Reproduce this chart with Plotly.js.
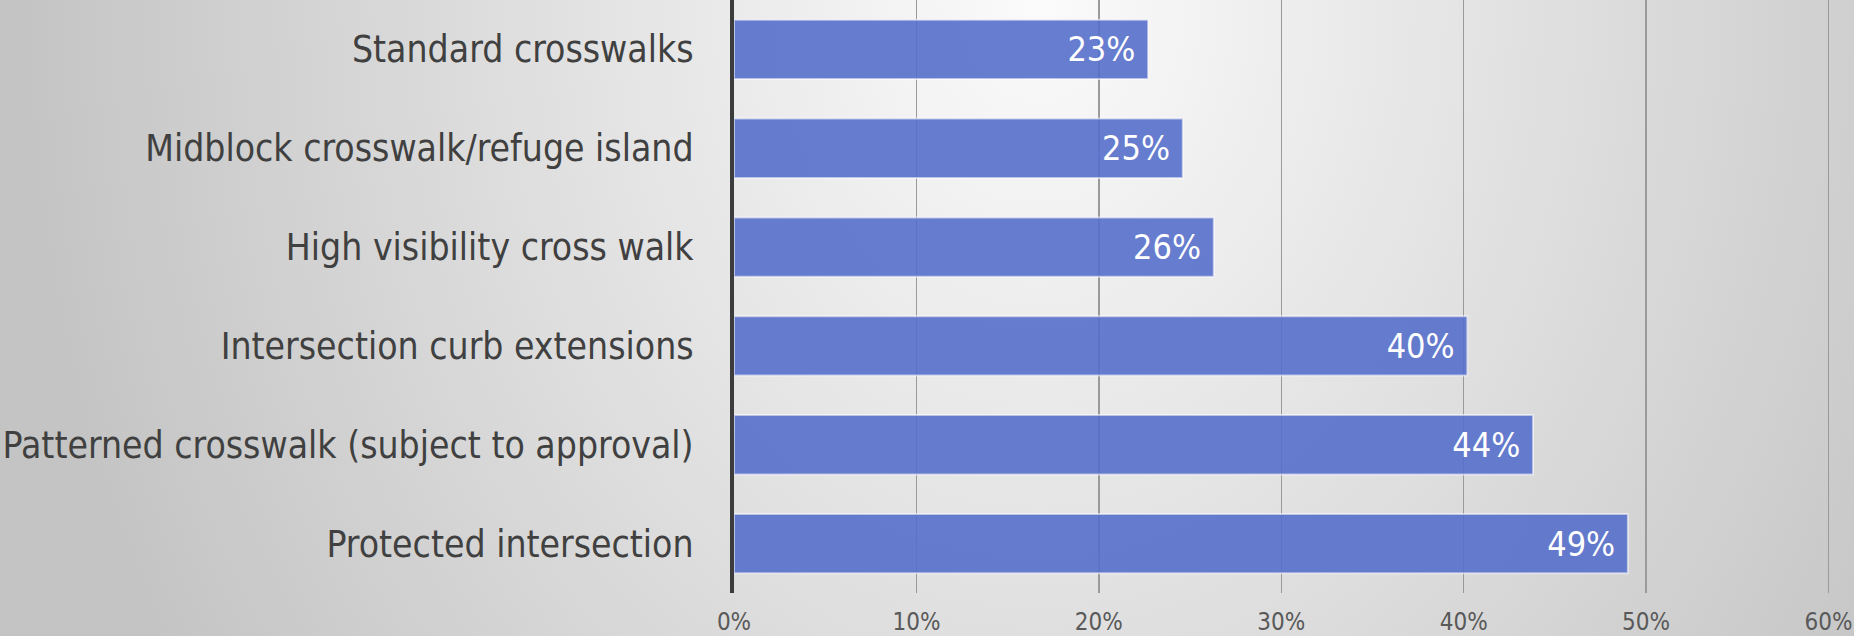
<!DOCTYPE html>
<html>
<head>
<meta charset="utf-8">
<script src="https://cdn.plot.ly/plotly-3.0.1.min.js"></script>
<style>
  html, body { margin: 0; padding: 0; }
  body {
    width: 1854px; height: 636px; overflow: hidden;
    background: radial-gradient(ellipse 55% 200% at 56% 0%, #fbfbfb 0%, #c4c4c4 100%);
  }
  #chart { width: 1854px; height: 636px; }
</style>
</head>
<body>
<div id="chart"></div>
<script>
const categories = [
  "Standard crosswalks",
  "Midblock crosswalk/refuge island",
  "High visibility cross walk",
  "Intersection curb extensions",
  "Patterned crosswalk (subject to approval)",
  "Protected intersection"
];
const values = [0.227, 0.246, 0.263, 0.402, 0.438, 0.490];
const labels = ["23%", "25%", "26%", "40%", "44%", "49%"];
const xTickVals = [0, 0.1, 0.2, 0.3, 0.4, 0.5, 0.6];
const xTickText = ["0%", "10%", "20%", "30%", "40%", "50%", "60%"];

const font = "'DejaVu Sans Condensed', 'Liberation Sans Narrow', sans-serif";

const trace = {
  type: "bar",
  orientation: "h",
  y: categories,
  x: values,
  text: labels.map(t => t + "\u00a0"),
  textposition: "inside",
  insidetextanchor: "end",
  textangle: 0,
  constraintext: "none",
  textfont: { family: font, size: 34, color: "#ffffff" },
  marker: {
    color: "rgba(86,111,202,0.9)",
    line: { color: "rgba(255,255,255,0.55)", width: 2 }
  },
  hoverinfo: "none"
};

const layout = {
  width: 1854,
  height: 636,
  margin: { l: 734, r: 24, t: 0, b: 43 },
  paper_bgcolor: "rgba(0,0,0,0)",
  plot_bgcolor: "rgba(0,0,0,0)",
  showlegend: false,
  bargap: 0.4,
  xaxis: {
    range: [0, 0.6008],
    tickvals: xTickVals,
    ticktext: xTickText,
    showgrid: true,
    gridcolor: "#9a9a9a",
    gridwidth: 1.5,
    zeroline: false,
    showline: false,
    ticks: "outside",
    ticklen: 7,
    tickcolor: "rgba(0,0,0,0)",
    tickfont: { family: font, size: 24, color: "#595959" },
    fixedrange: true
  },
  yaxis: {
    autorange: "reversed",
    showgrid: false,
    zeroline: false,
    showline: true,
    linecolor: "#3c3c3c",
    linewidth: 4,
    ticks: "outside",
    ticklen: 29,
    tickcolor: "rgba(0,0,0,0)",
    tickfont: { family: font, size: 37, color: "#404040" },
    fixedrange: true
  }
};

Plotly.newPlot("chart", [trace], layout, { displayModeBar: false, staticPlot: true });
</script>
</body>
</html>
